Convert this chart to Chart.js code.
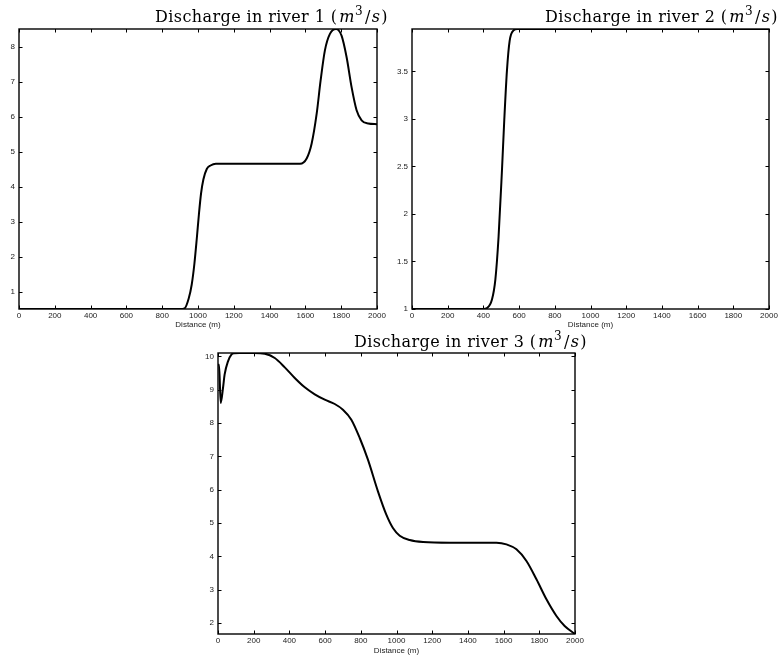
<!DOCTYPE html>
<html>
<head>
<meta charset="utf-8">
<title>Discharge in rivers</title>
<script src="https://cdn.jsdelivr.net/npm/chart.js@4.4.1/dist/chart.umd.min.js"></script>
<style>
  html, body { margin: 0; padding: 0; background: #fff; }
  body { width: 780px; height: 656px; position: relative; overflow: hidden; }
  .panel { position: absolute; }
  #panel1 { left: 0; top: 0; width: 390px; height: 330px; }
  #panel2 { left: 390px; top: 0; width: 390px; height: 330px; }
  #panel3 { left: 180px; top: 330px; width: 420px; height: 326px; }
</style>
</head>
<body>
<div class="panel" id="panel1"><canvas id="river1Chart"></canvas></div>
<div class="panel" id="panel2"><canvas id="river2Chart"></canvas></div>
<div class="panel" id="panel3"><canvas id="river3Chart"></canvas></div>

<script>
// distance along the river (m) and discharge (m^3/s)
const river1Distance = [0, 900, 925, 948, 965, 980, 993, 1005, 1017, 1030, 1049, 1070, 1100, 1570, 1607, 1635, 1663, 1685, 1709, 1737, 1771, 1802, 1830, 1858, 1886, 1914, 1951, 2000];
const river1Discharge = [0.5, 0.5, 0.52, 0.8, 1.2, 1.8, 2.5, 3.2, 3.8, 4.2, 4.5, 4.6, 4.65, 4.65, 4.8, 5.23, 6.08, 7.03, 7.89, 8.36, 8.5, 8.31, 7.7, 6.84, 6.18, 5.89, 5.8, 5.78];

const river2Distance = [0, 400, 420, 448, 467, 485, 504, 517, 532, 547, 569, 590, 2000];
const river2Discharge = [1, 1, 1.01, 1.1, 1.31, 1.76, 2.46, 2.99, 3.51, 3.82, 3.93, 3.945, 3.945];

const river3Distance = [0, 6, 15, 28, 37, 56, 75, 90, 120, 200, 262, 318, 374, 430, 486, 542, 598, 654, 700, 747, 794, 840, 896, 943, 980, 1018, 1074, 1149, 1300, 1450, 1560, 1616, 1672, 1728, 1784, 1840, 1896, 1942, 2000];
const river3Discharge = [9.75, 9.75, 8.6, 9.05, 9.45, 9.85, 10.05, 10.09, 10.1, 10.1, 10.08, 9.95, 9.67, 9.35, 9.07, 8.86, 8.7, 8.57, 8.4, 8.1, 7.55, 6.9, 5.95, 5.25, 4.85, 4.62, 4.49, 4.43, 4.41, 4.41, 4.41, 4.36, 4.21, 3.86, 3.31, 2.71, 2.21, 1.91, 1.67];

// tick labels
const distanceTicks = [0, 200, 400, 600, 800, 1000, 1200, 1400, 1600, 1800, 2000];
const river1Ticks = [1, 2, 3, 4, 5, 6, 7, 8];
const river2Ticks = [1, 1.5, 2, 2.5, 3, 3.5];
const river3Ticks = [2, 3, 4, 5, 6, 7, 8, 9, 10];

const tickFont = { family: '"Liberation Sans", Arial, sans-serif', size: 8 };

// Box round the plot with inward ticks on all four sides (matlab style)
const matlabFrame = {
    id: 'matlabFrame',
    afterDraw(chart) {
        const { ctx, chartArea: a, scales: { x, y } } = chart;
        const len = 3.5;
        ctx.save();
        ctx.strokeStyle = '#000';
        ctx.lineWidth = 1;
        ctx.beginPath();
        x.ticks.forEach(t => {
            const px = Math.round(x.getPixelForValue(t.value)) + 0.5;
            ctx.moveTo(px, a.bottom); ctx.lineTo(px, a.bottom - len);
            ctx.moveTo(px, a.top); ctx.lineTo(px, a.top + len);
        });
        y.ticks.forEach(t => {
            const py = Math.round(y.getPixelForValue(t.value)) + 0.5;
            ctx.moveTo(a.left, py); ctx.lineTo(a.left + len, py);
            ctx.moveTo(a.right, py); ctx.lineTo(a.right - len, py);
        });
        ctx.stroke();
        ctx.lineWidth = 1.4;
        ctx.strokeRect(a.left, a.top, a.right - a.left, a.bottom - a.top);
        ctx.restore();
    }
};

// Title with the units typeset like LaTeX: (m^3/s)
const texTitle = {
    id: 'texTitle',
    afterDraw(chart, args, opts) {
        const { ctx, chartArea: a } = chart;
        const size = 16;
        const fam = '"DejaVu Serif", "Liberation Serif", serif';
        const runs = [
            { text: 'Discharge in river ' + opts.river + ' (', font: `${size}px ${fam}`, rise: 0, gap: 2 },
            { text: 'm', font: `italic ${size}px ${fam}`, rise: 0, gap: 0 },
            { text: '3', font: `${Math.round(size * 0.72)}px ${fam}`, rise: size * 0.42, gap: 2 },
            { text: '/', font: `${size}px ${fam}`, rise: 0, gap: 1 },
            { text: 's', font: `italic ${size}px ${fam}`, rise: 0, gap: 1 },
            { text: ')', font: `${size}px ${fam}`, rise: 0, gap: 0 }
        ];
        ctx.save();
        ctx.letterSpacing = '0.4px';
        let total = 0;
        runs.forEach(r => {
            ctx.font = r.font;
            r.w = ctx.measureText(r.text).width;
            total += r.w + r.gap;
        });
        let xPos = a.right + opts.dx - total;
        const base = a.top - opts.dy;
        ctx.fillStyle = '#000';
        ctx.textBaseline = 'alphabetic';
        ctx.textAlign = 'left';
        runs.forEach(r => {
            ctx.font = r.font;
            ctx.fillText(r.text, xPos, base - r.rise);
            xPos += r.w + r.gap;
        });
        ctx.restore();
    }
};

function makeRiverChart(canvasId, river, distance, discharge, yTicks, yMin, yMax, box) {
    const ctx = document.getElementById(canvasId).getContext('2d');
    const points = distance.map((d, i) => ({ x: d, y: discharge[i] }));

    return new Chart(ctx, {
        type: 'line',
        data: {
            datasets: [{
                data: points,
                borderColor: '#000',
                borderWidth: 2,
                pointRadius: 0,
                fill: false,
                cubicInterpolationMode: 'monotone'
            }]
        },
        plugins: [matlabFrame, texTitle],
        options: {
            responsive: true,
            maintainAspectRatio: false,
            animation: false,
            events: [],
            layout: { padding: { top: box.top, right: box.right, left: 0, bottom: 0 } },
            plugins: {
                legend: { display: false },
                tooltip: { enabled: false },
                title: { display: false },
                texTitle: { river: river, dx: box.titleDx, dy: box.titleDy }
            },
            scales: {
                x: {
                    type: 'linear',
                    min: 0,
                    max: 2000,
                    grid: { display: false, drawTicks: false },
                    border: { display: false },
                    afterBuildTicks: scale => { scale.ticks = distanceTicks.map(v => ({ value: v })); },
                    afterFit: scale => { scale.height = box.xHeight; },
                    ticks: {
                        autoSkip: false,
                        maxRotation: 0,
                        padding: 2,
                        color: '#222',
                        font: tickFont,
                        callback: v => String(v)
                    },
                    title: {
                        display: true,
                        text: 'Distance (m)',
                        color: '#222',
                        font: { family: tickFont.family, size: 8 },
                        padding: { top: 0, bottom: 0 }
                    }
                },
                y: {
                    type: 'linear',
                    min: yMin,
                    max: yMax,
                    grid: { display: false, drawTicks: false },
                    border: { display: false },
                    afterBuildTicks: scale => { scale.ticks = yTicks.map(v => ({ value: v })); },
                    afterFit: scale => { scale.width = box.yWidth; },
                    ticks: {
                        padding: 4,
                        color: '#222',
                        font: tickFont,
                        callback: v => String(v)
                    }
                }
            }
        }
    });
}

document.addEventListener('DOMContentLoaded', () => {
    makeRiverChart('river1Chart', 1, river1Distance, river1Discharge, river1Ticks, 0.5, 8.5,
        { top: 29, right: 13, yWidth: 19, xHeight: 21, titleDx: 11, titleDy: 7 });
    makeRiverChart('river2Chart', 2, river2Distance, river2Discharge, river2Ticks, 1, 3.945,
        { top: 29, right: 11, yWidth: 22, xHeight: 21, titleDx: 9, titleDy: 7 });
    makeRiverChart('river3Chart', 3, river3Distance, river3Discharge, river3Ticks, 1.67, 10.1,
        { top: 23, right: 25, yWidth: 38, xHeight: 22, titleDx: 12, titleDy: 6 });
});
</script>
</body>
</html>
